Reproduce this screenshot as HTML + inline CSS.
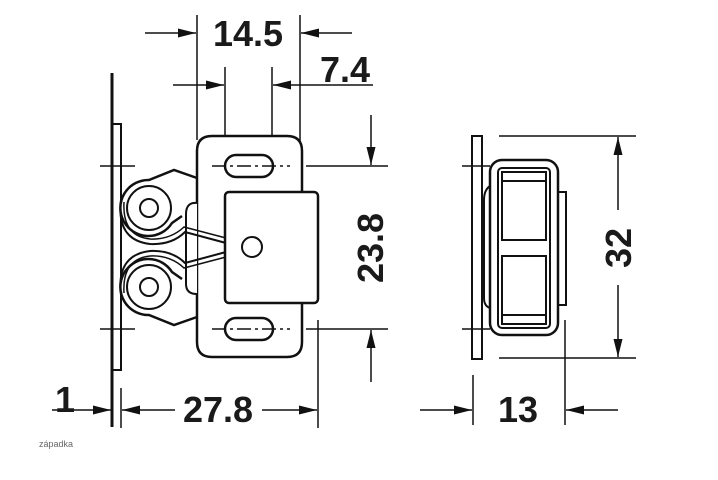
<!DOCTYPE html>
<html><head><meta charset="utf-8"><style>
html,body{margin:0;padding:0;background:#fff;}
svg{display:block;}
text{font-family:"Liberation Sans",sans-serif;font-weight:bold;fill:#1a1a1a;}
</style></head><body>
<svg width="718" height="480" viewBox="0 0 718 480" xmlns="http://www.w3.org/2000/svg">
<defs>
<marker id="a" viewBox="0 0 18 9" refX="18" refY="4.5" markerWidth="18" markerHeight="9" markerUnits="userSpaceOnUse" orient="auto"><path d="M0,0 L18,4.5 L0,9 z" fill="#111"/></marker>
</defs>
<g stroke="#111" fill="none" stroke-width="1.5">
<!-- top dims -->
<line x1="197" y1="15" x2="197" y2="140"/>
<line x1="300" y1="15" x2="300" y2="142"/>
<line x1="145" y1="33" x2="196" y2="33" marker-end="url(#a)"/>
<line x1="352" y1="33" x2="301" y2="33" marker-end="url(#a)"/>
<line x1="225" y1="67" x2="225" y2="152"/>
<line x1="272" y1="67" x2="272" y2="152"/>
<line x1="173" y1="85" x2="224" y2="85" marker-end="url(#a)"/>
<line x1="373" y1="85" x2="273" y2="85" marker-end="url(#a)"/>
<!-- plate -->
<line x1="112" y1="73" x2="112" y2="427" stroke-width="3"/>
<rect x="112" y="124" width="9" height="246" stroke-width="2"/>
<line x1="100" y1="166" x2="135" y2="166"/>
<line x1="100" y1="329" x2="135" y2="329"/>
<!-- rollers -->
<path d="M197,178 L174,170 L149,180 A28,28 0 1 0 172,223 L182,216" stroke-width="2.5" fill="#fff"/>
<path d="M197,317 L174,325 L149,315 A28,28 0 1 1 172,272 L182,279" stroke-width="2.5" fill="#fff"/>
<circle cx="149" cy="208" r="22" stroke-width="2"/>
<circle cx="149" cy="287" r="22" stroke-width="2"/>
<circle cx="149" cy="208" r="9" stroke-width="2"/>
<circle cx="149" cy="287" r="9" stroke-width="2"/>
<!-- body -->
<path d="M212,136 L287,136 Q302,136 302,151 L302,342 Q302,357 287,357 L212,357 Q197,357 197,342 L197,151 Q197,136 212,136 Z" stroke-width="2.5" fill="#fff"/>
<path d="M197,203 Q186,202 186,214 L186,284 Q186,294 197,294" stroke-width="2" fill="#fff"/>
<path d="M121,200 Q116,240 150,244 Q172,245 185,232 L226,243" stroke-width="2"/>
<path d="M124,202 Q122,236 150,239 Q170,240 184,227 L226,238" stroke-width="1.5"/>
<path d="M121,295 Q116,255 150,251 Q172,250 185,263 L226,252" stroke-width="2"/>
<path d="M124,293 Q122,259 150,256 Q170,255 184,268 L226,257" stroke-width="1.5"/>
<rect x="225" y="192" width="93" height="111" rx="4" fill="#fff" stroke-width="2.5"/>
<circle cx="252" cy="247" r="10" stroke-width="2"/>
<rect x="225" y="155" width="48" height="22" rx="11" stroke-width="2.5"/>
<rect x="225" y="318" width="48" height="22" rx="11" stroke-width="2.5"/>
<line x1="212" y1="166" x2="290" y2="166" stroke-dasharray="14,4,3,4"/>
<line x1="212" y1="329" x2="290" y2="329" stroke-dasharray="14,4,3,4"/>
<line x1="306" y1="166" x2="388" y2="166"/>
<line x1="306" y1="329" x2="388" y2="329"/>
<line x1="371" y1="115" x2="371" y2="165" marker-end="url(#a)"/>
<line x1="371" y1="382" x2="371" y2="330" marker-end="url(#a)"/>
<line x1="318" y1="320" x2="318" y2="428"/>
<!-- bottom dims -->
<line x1="121" y1="388" x2="121" y2="428"/>
<line x1="52" y1="410" x2="111" y2="410" marker-end="url(#a)"/>
<line x1="175" y1="410" x2="122" y2="410" marker-end="url(#a)"/>
<line x1="262" y1="410" x2="317" y2="410" marker-end="url(#a)"/>
<!-- side view -->
<rect x="472" y="136" width="10" height="223" stroke-width="2"/>
<line x1="462" y1="166" x2="490" y2="166"/>
<line x1="462" y1="329" x2="490" y2="329"/>
<path d="M490,186 Q484,190 484,200 L484,298 Q484,306 490,308" stroke-width="2"/>
<rect x="490" y="160" width="68" height="175" rx="12" stroke-width="2.5" fill="#fff"/>
<rect x="498" y="168" width="52" height="160" rx="4" stroke-width="2"/>
<rect x="502" y="172" width="44" height="68" stroke-width="2"/>
<rect x="502" y="256" width="44" height="68" stroke-width="2"/>
<line x1="502" y1="181" x2="546" y2="181" stroke-width="2"/>
<line x1="502" y1="315" x2="546" y2="315" stroke-width="2"/>
<rect x="558" y="192" width="8" height="113" stroke-width="2"/>
<line x1="499" y1="136" x2="636" y2="136"/>
<line x1="499" y1="358" x2="636" y2="358"/>
<line x1="618" y1="210" x2="618" y2="137" marker-end="url(#a)"/>
<line x1="618" y1="285" x2="618" y2="357" marker-end="url(#a)"/>
<line x1="473" y1="375" x2="473" y2="425"/>
<line x1="565" y1="320" x2="565" y2="425"/>
<line x1="420" y1="410" x2="472" y2="410" marker-end="url(#a)"/>
<line x1="618" y1="410" x2="566" y2="410" marker-end="url(#a)"/>
</g>
<text x="248" y="46" font-size="36" text-anchor="middle">14.5</text>
<text x="345" y="82" font-size="36" text-anchor="middle">7.4</text>
<text x="65" y="412" font-size="36" text-anchor="middle">1</text>
<text x="218" y="422" font-size="36" text-anchor="middle">27.8</text>
<text x="518" y="422" font-size="36" text-anchor="middle">13</text>
<text transform="translate(383,248) rotate(-90)" font-size="36" text-anchor="middle">23.8</text>
<text transform="translate(631,248) rotate(-90)" font-size="36" text-anchor="middle">32</text>
<text x="39" y="447" font-size="9" style="font-weight:normal;fill:#666">západka</text>
</svg>
</body></html>
